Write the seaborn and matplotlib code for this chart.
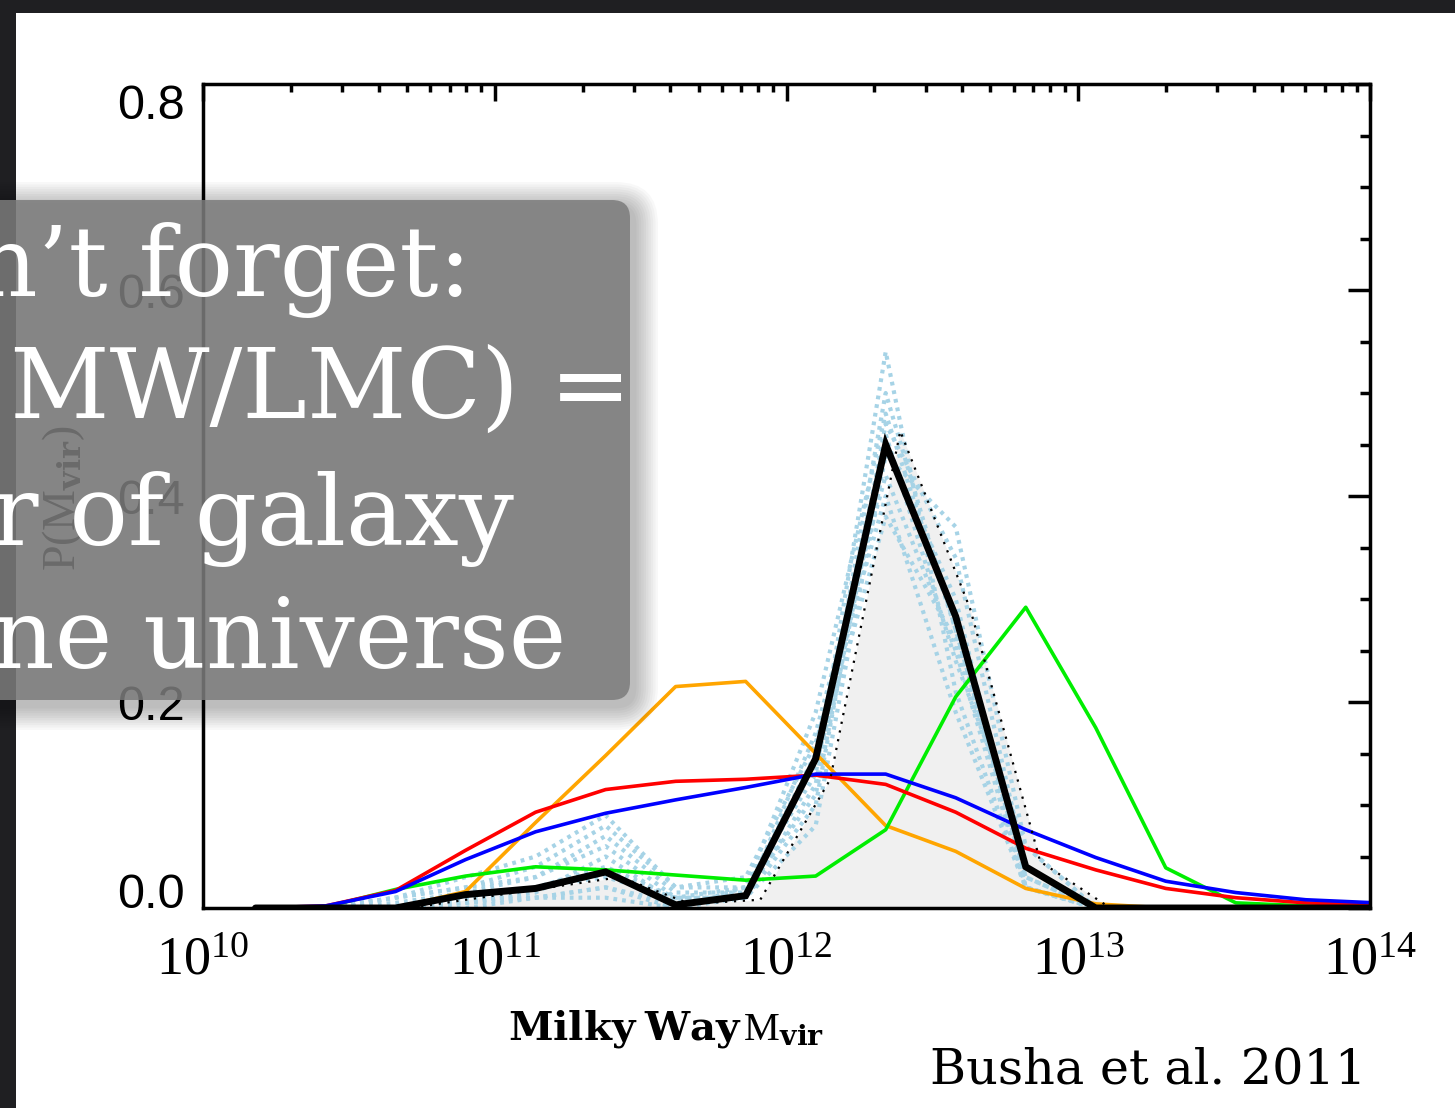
import numpy as np
import pandas as pd
import matplotlib
matplotlib.use("Agg")
import matplotlib.pyplot as plt
import seaborn as sns
from matplotlib.patches import FancyBboxPatch, Rectangle
from matplotlib.ticker import LogLocator, MultipleLocator, NullFormatter, FixedLocator, FixedFormatter
from matplotlib.transforms import Affine2D

# ---------------- data ----------------
log_mass = [10.18, 10.42, 10.66, 10.90, 11.14, 11.38, 11.62, 11.86, 12.10,
            12.34, 12.58, 12.82, 13.06, 13.30, 13.54, 13.78, 14.02]

p_black = [0, 0, 0, 0.013, 0.019, 0.035, 0.003, 0.012, 0.145, 0.450, 0.283, 0.040, 0, 0, 0, 0, 0]
p_red = [0, 0.002, 0.017, 0.056, 0.093, 0.115, 0.123, 0.125, 0.129, 0.120, 0.093, 0.058, 0.037, 0.019, 0.010, 0.005, 0.003]
p_blue = [0, 0.002, 0.016, 0.047, 0.074, 0.092, 0.105, 0.117, 0.130, 0.130, 0.107, 0.076, 0.049, 0.026, 0.015, 0.008, 0.005]
p_green = [0, 0.001, 0.018, 0.031, 0.040, 0.037, 0.032, 0.027, 0.031, 0.076, 0.205, 0.292, 0.175, 0.039, 0.005, 0.002, 0.001]
p_orange = [0, 0, 0, 0.016, 0.083, 0.148, 0.215, 0.220, 0.150, 0.080, 0.055, 0.019, 0.004, 0, 0, 0, 0]

# dotted black reference curve (slightly offset binning)
log_mass_dot = [10.23, 10.47, 10.71, 10.95, 11.19, 11.43, 11.67, 11.91, 12.15,
                12.39, 12.63, 12.87, 13.11, 13.35]
p_dotted = [0, 0, 0, 0.010, 0.020, 0.030, 0.004, 0.008, 0.125, 0.463, 0.290, 0.045, 0, 0]

# light-blue dotted realisations
p_lb = [
    [0, 0, 0, 0.010, 0.020, 0.040, 0.010, 0.020, 0.130, 0.540, 0.210, 0.020, 0, 0, 0, 0, 0],
    [0, 0, 0.010, 0.020, 0.030, 0.060, 0.010, 0.010, 0.170, 0.420, 0.250, 0.020, 0, 0, 0, 0, 0],
    [0, 0, 0, 0.010, 0.010, 0.020, 0, 0.010, 0.100, 0.470, 0.340, 0.040, 0, 0, 0, 0, 0],
    [0, 0, 0.010, 0.020, 0.040, 0.080, 0.020, 0.020, 0.140, 0.380, 0.260, 0.030, 0, 0, 0, 0, 0],
    [0, 0, 0, 0, 0.010, 0.010, 0, 0.020, 0.190, 0.480, 0.270, 0.020, 0, 0, 0, 0, 0],
    [0, 0, 0, 0.005, 0.010, 0.020, 0.005, 0.010, 0.080, 0.440, 0.370, 0.060, 0, 0, 0, 0, 0],
    [0, 0, 0.010, 0.030, 0.050, 0.090, 0.020, 0.030, 0.160, 0.400, 0.190, 0.020, 0, 0, 0, 0, 0],
    [0, 0, 0, 0.010, 0.020, 0.030, 0.010, 0.010, 0.120, 0.500, 0.270, 0.030, 0, 0, 0, 0, 0],
    [0, 0, 0, 0.005, 0.015, 0.050, 0.005, 0.015, 0.150, 0.460, 0.240, 0.060, 0, 0, 0, 0, 0],
    [0, 0, 0.005, 0.015, 0.030, 0.070, 0.015, 0.015, 0.110, 0.450, 0.300, 0.020, 0, 0, 0, 0, 0],
]

x_ticks = [1e10, 1e11, 1e12, 1e13, 1e14]
x_ticklabels = [r"$\mathdefault{10^{10}}$", r"$\mathdefault{10^{11}}$", r"$\mathdefault{10^{12}}$",
                r"$\mathdefault{10^{13}}$", r"$\mathdefault{10^{14}}$"]
y_ticks = [0.0, 0.2, 0.4, 0.6, 0.8]
y_ticklabels = ["0.0", "0.2", "0.4", "0.6", "0.8"]

box_lines = ["n\u2019t forget:", "MW/LMC) =", "r of galaxy", "ne universe"]
caption = "Busha et al. 2011"

# ---------------- figure ----------------
W, H = 1455, 1108
sns.set_theme(style="white")
plt.rcParams["mathtext.fontset"] = "custom"
plt.rcParams["mathtext.rm"] = "Liberation Serif"
plt.rcParams["mathtext.bf"] = "DejaVu Serif:bold"
plt.rcParams["mathtext.it"] = "Liberation Serif:italic"
plt.rcParams["font.family"] = ["DejaVu Sans"]

fig = plt.figure(figsize=(W / 100, H / 100), dpi=100)
fig.patch.set_facecolor("#1f1f22")
T = Affine2D().scale(1.0 / W, 1.0 / H) + fig.transFigure  # pixel coords, origin bottom-left

# white slide panel
fig.patches.append(Rectangle((16, 0), W, H - 13, transform=T, facecolor="white",
                             edgecolor="none", zorder=-10))

ax = fig.add_axes([203 / W, 1 - 908 / H, (1370 - 203) / W, (908 - 84) / H])
ax.set_facecolor("white")
ax.set_xscale("log")

xm = [10 ** v for v in log_mass]
xd = [10 ** v for v in log_mass_dot]

ax.fill_between(xd, p_dotted, 0, color="#f0f0f0", lw=0, zorder=1)

for s in p_lb:
    sns.lineplot(x=xm, y=s, ax=ax, color="#a6d3e6", lw=3.0, linestyle=(0, (0.9, 1.2)),
                 estimator=None, sort=False, zorder=2)

for vals, col in [(p_orange, "#ffa500"), (p_green, "#00ee00"), (p_red, "#ff0000"), (p_blue, "#0000ff")]:
    sns.lineplot(x=xm, y=vals, ax=ax, color=col, lw=2.6, estimator=None, sort=False, zorder=3)

sns.lineplot(x=xd, y=p_dotted, ax=ax, color="black", lw=1.6, linestyle=(0, (1, 3)),
             estimator=None, sort=False, zorder=4)
sns.lineplot(x=xm, y=p_black, ax=ax, color="black", lw=5.0, estimator=None, sort=False,
             zorder=5, solid_joinstyle="miter")

ax.set_xlim(1e10, 1e14)
ax.set_ylim(0, 0.8)

ax.xaxis.set_major_locator(FixedLocator(x_ticks))
ax.xaxis.set_major_formatter(FixedFormatter(x_ticklabels))
ax.xaxis.set_minor_locator(LogLocator(base=10, subs=np.arange(2, 10), numticks=20))
ax.xaxis.set_minor_formatter(NullFormatter())
ax.yaxis.set_major_locator(FixedLocator(y_ticks))
ax.yaxis.set_major_formatter(FixedFormatter(y_ticklabels))
ax.yaxis.set_minor_locator(MultipleLocator(0.05))

for sp in ax.spines.values():
    sp.set_color("black")
    sp.set_linewidth(2.5)
    sp.set_zorder(6)

ax.tick_params(axis="both", which="both", direction="in", top=True, right=True,
               color="black", width=2.5)
ax.tick_params(axis="x", which="major", length=12, pad=20, labelsize=39,
               labelfontfamily="Liberation Serif", labelcolor="black")
ax.tick_params(axis="x", which="minor", length=6)
ax.tick_params(axis="y", which="major", length=16, pad=13, labelsize=35,
               labelfontfamily="Liberation Sans", labelcolor="black")
ax.tick_params(axis="y", which="minor", length=7)

fig.canvas.draw()
for t in ax.yaxis.get_major_ticks():
    lab = t.label1.get_text()
    if lab == "0.8":
        t.label1.set_va("top")
    elif lab == "0.0":
        t.label1.set_va("baseline")

ax.set_ylabel(r"P(M$_{\mathbf{vir}}$)", fontsize=33, family="Liberation Serif", color="black")
ax.yaxis.set_label_coords(-0.099, 0.497)

# x label
fig.text(666 / W, 1 - 1040 / H, r"$\mathbf{Milky\ Way}\,\mathrm{M}_{\mathbf{vir}}$",
         ha="center", va="baseline", fontsize=29, color="black")

# caption
fig.text(930 / W, 1 - 1083 / H, caption, ha="left", va="baseline", fontsize=35.5,
         family="DejaVu Serif", color="black")

# overlay box with soft shadow
bx0, by0, bx1, by1 = -30, 1108 - 700, 630, 1108 - 200
for i in range(10, 0, -1):
    g = i * 2.4
    fig.patches.append(FancyBboxPatch((bx0 - g + 4, by0 - g - 6), (bx1 - bx0) + 2 * g, (by1 - by0) + 2 * g,
                                      boxstyle="round,pad=0,rounding_size=%f" % (18 + g),
                                      transform=T, facecolor="black", edgecolor="none",
                                      alpha=0.026, zorder=9))
fig.patches.append(FancyBboxPatch((bx0, by0), bx1 - bx0, by1 - by0,
                                  boxstyle="round,pad=0,rounding_size=18",
                                  transform=T, facecolor="#7c7c7c", edgecolor="none",
                                  alpha=0.86, zorder=10))

baselines = [296, 418, 545, 668]
x_starts = [-25, 10, -8, -8]
for s, yb, xs in zip(box_lines, baselines, x_starts):
    fig.text(xs / W, 1 - yb / H, s, ha="left", va="baseline", fontsize=70,
             family="DejaVu Serif", color="white", zorder=11)

fig.savefig("out.png", dpi=100, facecolor=fig.get_facecolor())
